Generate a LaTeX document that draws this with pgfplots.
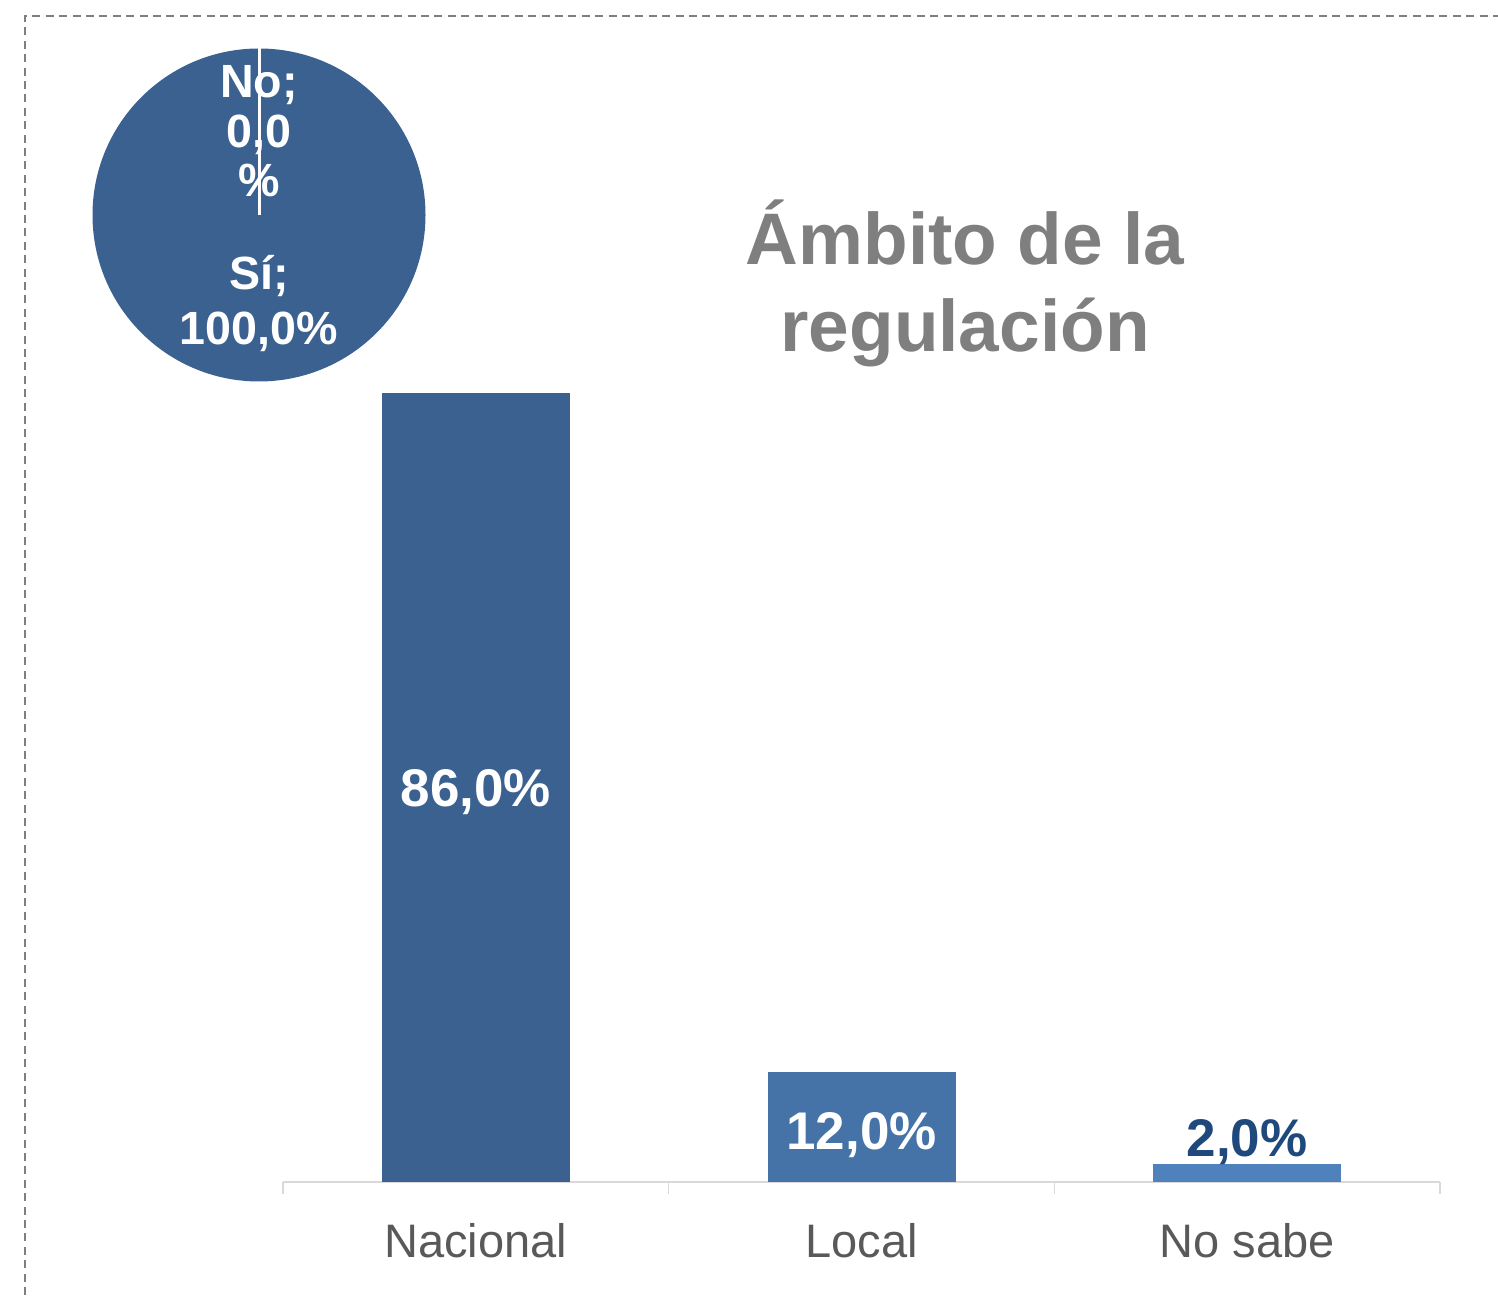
\documentclass[border=0pt]{standalone}
\usepackage{fontspec}
\setmainfont{Liberation Sans}
\usepackage{pgfplots}
\pgfplotsset{compat=1.18}
\definecolor{barA}{HTML}{3B6190}
\definecolor{barB}{HTML}{4573A7}
\definecolor{barC}{HTML}{4F81BD}
\definecolor{lblC}{HTML}{1F497D}
\definecolor{titlegray}{HTML}{7F7F7F}
\definecolor{ticklbl}{HTML}{595959}
\definecolor{axgray}{HTML}{D9D9D9}
\begin{document}
\begin{tikzpicture}
\path[use as bounding box] (0pt,0pt) rectangle (749pt,647.5pt);
\draw[titlegray, line width=0.8pt, dash pattern=on 4pt off 2.7pt] (12.5pt,0pt) -- (12.5pt,639.5pt) -- (749pt,639.5pt);
% pie chart (Si 100%, No 0%)
\begin{axis}[at={(129.5pt,540pt)}, anchor=center, width=166.5pt, height=166.5pt, scale only axis,
  xmin=-1, xmax=1, ymin=-1, ymax=1, hide axis, clip=false]
  \fill[barA] (axis cs:0,0) circle[radius=83.25pt];
  \draw[white, line width=1.5pt] (axis cs:0,0) -- (axis cs:0,1);
\end{axis}
\begin{scope}[every node/.style={text=white, font=\fontsize{23.3}{26}\selectfont\bfseries, inner sep=0pt, anchor=base}]
  \node at (129.5pt,598.5pt) {No;};
  \node at (129.5pt,573.5pt) {0,0};
  \node at (129.5pt,549pt) {\%};
  \node at (129.5pt,502.5pt) {Sí;};
  \node at (129.5pt,475pt) {100,0\%};
\end{scope}
% title
\node[text=titlegray, font=\fontsize{36.5}{40}\selectfont\bfseries, inner sep=0pt, anchor=base] at (482.5pt,515pt) {Ámbito de la};
\node[text=titlegray, font=\fontsize{36.5}{40}\selectfont\bfseries, inner sep=0pt, anchor=base] at (482.5pt,471.5pt) {regulación};
% bar chart
\begin{axis}[at={(141.5pt,56.5pt)}, anchor=south west, width=578.5pt, height=459pt, scale only axis,
  xmin=-0.5, xmax=2.5, ymin=0, ymax=100, clip=false,
  ybar, bar width=94pt, bar shift=0pt,
  axis x line*=bottom, axis y line=none,
  x axis line style={axgray, line width=0.8pt},
  xtick={-0.5,0.5,1.5,2.5}, xticklabels={}, tick align=outside, major tick length=6pt,
  tick style={axgray, line width=0.8pt},
  extra x ticks={0,1,2}, extra x tick labels={Nacional,Local,No sabe},
  extra x tick style={major tick length=0pt, tick style={draw=none}},
  xticklabel style={anchor=base, yshift=-37.5pt, text=ticklbl, font=\fontsize{23.5}{28}\selectfont, inner sep=0pt},
  ytick=\empty]
  \addplot[fill=barA, draw=none] coordinates {(0,86)};
  \addplot[fill=barB, draw=none] coordinates {(1,12)};
  \addplot[fill=barC, draw=none] coordinates {(2,2)};
  \node[text=white, font=\fontsize{26.5}{30}\selectfont\bfseries, inner sep=0pt, anchor=base] at (axis cs:0,43) [yshift=-9.5pt] {86,0\%};
  \node[text=white, font=\fontsize{26.5}{30}\selectfont\bfseries, inner sep=0pt, anchor=base] at (axis cs:1,5.66) [yshift=-9.5pt] {12,0\%};
  \node[text=lblC, font=\fontsize{26.5}{30}\selectfont\bfseries, inner sep=0pt, anchor=base] at (axis cs:2,2) [yshift=3.5pt] {2,0\%};
\end{axis}
\end{tikzpicture}
\end{document}
